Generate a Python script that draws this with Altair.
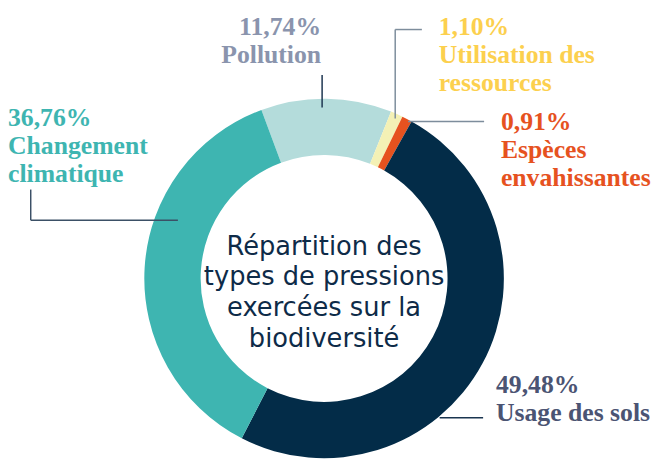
import math
import altair as alt
import pandas as pd

# ---- data ----
categories = ["Pollution", "Utilisation des ressources", "Espèces envahissantes",
              "Usage des sols", "Changement climatique"]
values = [11.74, 1.10, 0.91, 49.48, 36.76]
label_lines = [["Pollution"], ["Utilisation des", "ressources"], ["Espèces", "envahissantes"],
               ["Usage des sols"], ["Changement", "climatique"]]
slice_colors = ["#b4dcdb", "#f4f1b5", "#e6521f", "#032c48", "#3eb5b1"]
label_colors = ["#8a94ad", "#fcd04e", "#e6521f", "#4b5473", "#3eb5b1"]
center_title = ["Répartition des", "types de pressions", "exercées sur la", "biodiversité"]

# ---- layout (chart pixel coordinates) ----
OFF = 8
CX, CY = 328 - OFF, 279 - OFF
R_OUT, R_IN = 182, 125
START = math.radians(-20.4)
# label anchor: (x, first baseline, align)
label_anchor = {
    "Pollution": (325, 33, "right"),
    "Utilisation des ressources": (444, 33, "left"),
    "Espèces envahissantes": (507, 129, "left"),
    "Usage des sols": (502, 395, "left"),
    "Changement climatique": (8, 125, "left"),
}
LINE_H = 28
leaders = [  # x, y, x2, y2, color
    (31, 189, 31, 220, "#3b5066"),
    (31, 220, 180, 220, "#3b5066"),
    (326, 73, 326, 106, "#1c3550"),
    (400, 27, 427, 27, "#7d8d9c"),
    (400, 27, 400, 117, "#7d8d9c"),
    (413, 120, 490, 120, "#7d8d9c"),
    (445, 420, 489, 420, "#1a3550"),
]

df = pd.DataFrame({"cat": categories, "val": values, "idx": range(len(categories))})

arcs = alt.Chart(df).mark_arc(outerRadius=R_OUT, innerRadius=R_IN, x=CX, y=CY).encode(
    theta=alt.Theta("val:Q", stack=True,
                    scale=alt.Scale(range=[START, START + 2 * math.pi])),
    color=alt.Color("cat:N", scale=alt.Scale(domain=categories, range=slice_colors), legend=None),
    order=alt.Order("idx:Q"),
)

rows = []
for c, v, lines, col in zip(categories, values, label_lines, label_colors):
    x, y0, al = label_anchor[c]
    texts = [f"{v:.2f}".replace(".", ",") + "%"] + lines
    for i, t in enumerate(texts):
        rows.append({"t": t, "x": x - OFF, "y": y0 - OFF + i * LINE_H, "align": al, "col": col})
lab = pd.DataFrame(rows)

def text_layer(d, align):
    return alt.Chart(d).mark_text(align=align, baseline="alphabetic", font="Liberation Serif",
                                  fontWeight="bold", fontSize=26).encode(
        x=alt.X("x:Q", scale=None), y=alt.Y("y:Q", scale=None),
        text="t:N", color=alt.Color("col:N", scale=None))

labels_l = text_layer(lab[lab["align"] == "left"], "left")
labels_r = text_layer(lab[lab["align"] == "right"], "right")

ld = pd.DataFrame([{"x": a - OFF, "y": b - OFF, "x2": c - OFF, "y2": d - OFF, "col": e}
                   for a, b, c, d, e in leaders])
rules = alt.Chart(ld).mark_rule(strokeWidth=1.5).encode(
    x=alt.X("x:Q", scale=None), y=alt.Y("y:Q", scale=None),
    x2="x2:Q", y2="y2:Q", color=alt.Color("col:N", scale=None))

cdf = pd.DataFrame({"t": center_title, "y": [255 - OFF + 31 * i for i in range(4)]})
center = alt.Chart(cdf).mark_text(align="center", baseline="alphabetic", font="DejaVu Sans",
                                  fontSize=26, color="#0e2b48", x=CX).encode(
    y=alt.Y("y:Q", scale=None), text="t:N")

chart = alt.layer(arcs, rules, labels_l, labels_r, center).properties(
    width=654, height=452, padding=0, autosize=alt.AutoSizeParams(type="none")
).configure_view(stroke=None)

chart.save("out.html", embed_options={"renderer": "svg", "actions": False})
